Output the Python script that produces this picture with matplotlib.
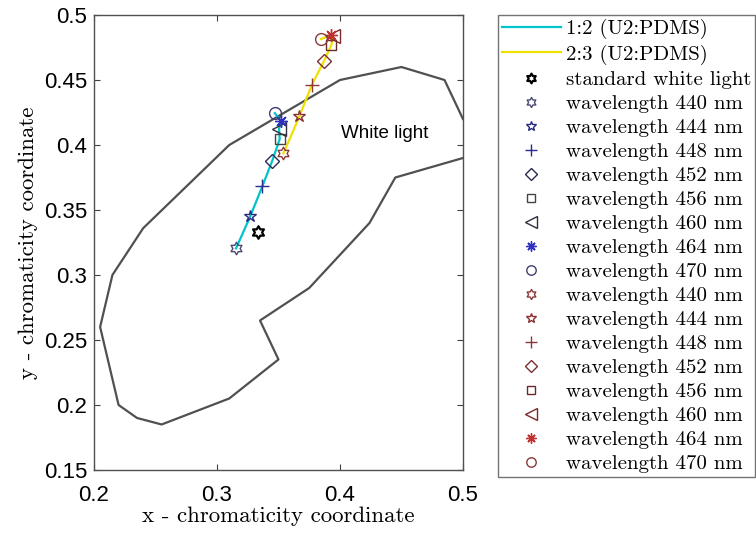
import numpy as np
import matplotlib
matplotlib.use("Agg")
import matplotlib.pyplot as plt
from matplotlib.lines import Line2D
from matplotlib.path import Path
from matplotlib.ticker import FormatStrFormatter

# white light region boundary (CIE xy)
bx = [0.5, 0.485, 0.45, 0.40, 0.31, 0.24, 0.215, 0.205, 0.22, 0.235, 0.255,
      0.31, 0.35, 0.335, 0.375, 0.424, 0.445, 0.5]
by = [0.42, 0.45, 0.46, 0.45, 0.40, 0.336, 0.30, 0.26, 0.20, 0.19, 0.185,
      0.205, 0.235, 0.265, 0.29, 0.34, 0.375, 0.39]

wl = [440, 444, 448, 452, 456, 460, 464, 470]

# MATLAB-like hexagram
hexagram = Path.unit_regular_star(6, 1 / np.sqrt(3))
markers = [hexagram, "*", "+", "D", "s", "<", (8, 2, 0), "o"]
sizes = [9, 9, 10, 7.5, 7, 10, 9, 8.5]

# 1:2 (U2:PDMS)
x1 = [0.3155, 0.327, 0.337, 0.345, 0.351, 0.3505, 0.352, 0.347]
y1 = [0.3205, 0.345, 0.3685, 0.388, 0.4045, 0.4125, 0.4185, 0.4245]
c1 = ["#4a4a72", "#2a2a80", "#2a2a90", "#2a2a55", "#444444", "#303040", "#3030c0", "#404070"]

# 2:3 (U2:PDMS)
x2 = [0.354, 0.367, 0.377, 0.387, 0.393, 0.3945, 0.3925, 0.3845]
y2 = [0.3935, 0.422, 0.446, 0.4645, 0.477, 0.4835, 0.4845, 0.4815]
c2 = ["#8a3a3a", "#8a3030", "#8a3a3a", "#7a3030", "#6a2a2a", "#7a2a2a", "#c03030", "#8a3a3a"]

white_x, white_y = 0.333, 0.333

fig = plt.figure(figsize=(7.56, 5.34), dpi=100)
ax = fig.add_axes([0.1243, 0.1199, 0.4881, 0.852])

ax.plot(bx, by, color="#505050", lw=1.6)
ax.plot(x1, y1, color="#00c4c8", lw=1.6, zorder=2)
ax.plot(x2, y2, color="#f0e000", lw=1.6, zorder=2)
ax.plot(white_x, white_y, ls="none", marker=hexagram, ms=9, mfc="none",
        mec="black", mew=1.6, zorder=3)
for i in range(len(wl)):
    ax.plot(x1[i], y1[i], ls="none", marker=markers[i], ms=sizes[i], mfc="none",
            mec=c1[i], mew=1.0, zorder=3)
    ax.plot(x2[i], y2[i], ls="none", marker=markers[i], ms=sizes[i], mfc="none",
            mec=c2[i], mew=1.0, zorder=3)

ax.text(0.4005, 0.409, "White light", fontsize=13.5, family="Liberation Sans",
        va="center", ha="left")

ax.set_xlim(0.2, 0.5)
ax.set_ylim(0.15, 0.5)
ax.set_xticks([0.2, 0.3, 0.4, 0.5])
ax.set_yticks([0.15, 0.2, 0.25, 0.3, 0.35, 0.4, 0.45, 0.5])
ax.xaxis.set_major_formatter(FormatStrFormatter("%g"))
ax.yaxis.set_major_formatter(FormatStrFormatter("%g"))
ax.tick_params(direction="in", top=True, right=True, length=4, color="#404040",
               labelsize=16)
ax.tick_params(axis="x", pad=11)
ax.tick_params(axis="y", pad=5)
for lab in ax.get_xticklabels() + ax.get_yticklabels():
    lab.set_family("Liberation Sans")
for s in ax.spines.values():
    s.set_color("#505050")
    s.set_linewidth(1.0)

ax.set_xlabel("x - chromaticity coordinate", family="cmr10", fontsize=16.5, labelpad=0)
ax.set_ylabel("y - chromaticity coordinate", family="cmr10", fontsize=16.5, labelpad=4)

handles = [Line2D([], [], color="#00c4c8", lw=1.6),
           Line2D([], [], color="#f0e000", lw=1.6),
           Line2D([], [], ls="none", marker=hexagram, ms=7, mfc="none", mec="black", mew=1.6)]
labels = ["1:2 (U2:PDMS)", "2:3 (U2:PDMS)", "standard white light"]
for cols in (c1, c2):
    for i in range(len(wl)):
        handles.append(Line2D([], [], ls="none", marker=markers[i], ms=sizes[i] * 0.8,
                              mfc="none", mec=cols[i], mew=1.0))
        labels.append("wavelength %d nm" % wl[i])

leg = fig.legend(handles, labels, loc="upper left", bbox_to_anchor=(498 / 756, 1 - 15 / 534),
                 prop={"family": "cmr10", "size": 15}, frameon=True, fancybox=False,
                 handlelength=2.8, handletextpad=0.25, borderpad=0.2, labelspacing=0.26,
                 borderaxespad=0)
leg.get_frame().set_edgecolor("#505050")
leg.get_frame().set_linewidth(1.0)

fig.savefig("out.png", dpi=100)
